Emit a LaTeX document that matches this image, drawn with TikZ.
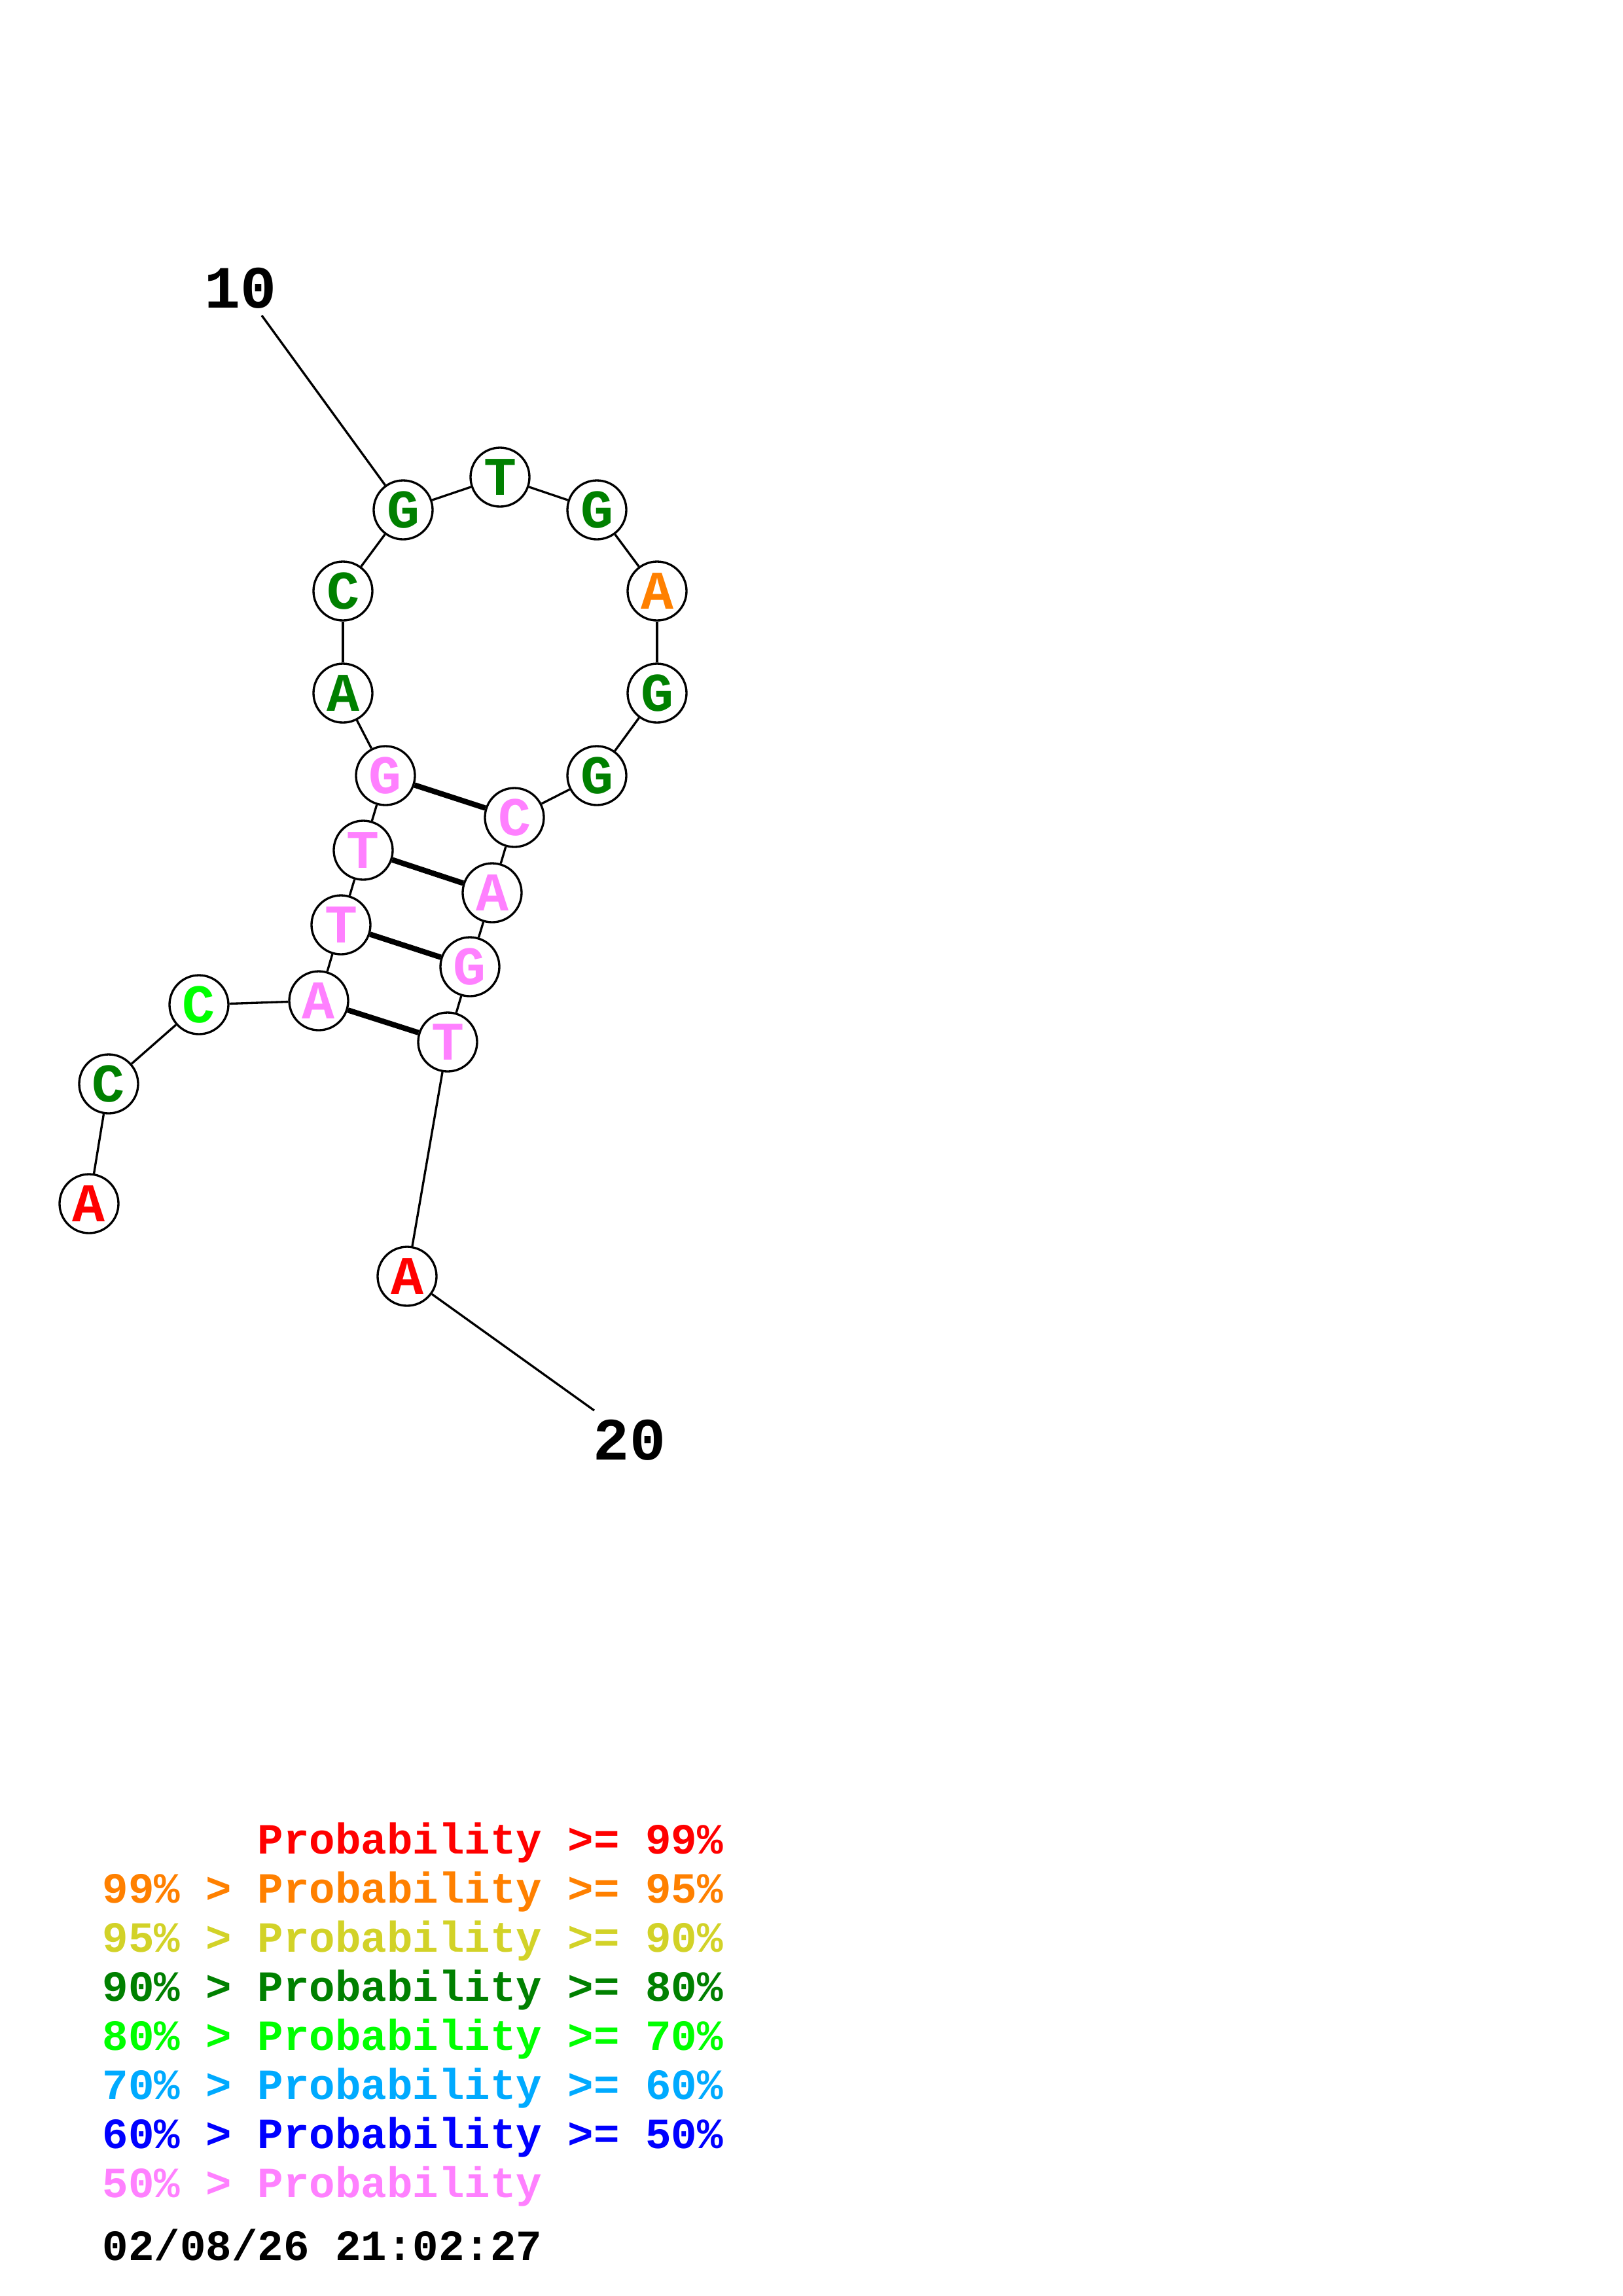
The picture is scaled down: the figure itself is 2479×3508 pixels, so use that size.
\documentclass[tikz,border=0pt]{standalone}
\usepackage{fontspec}
\setmonofont{Liberation Mono}
\definecolor{pr99}{RGB}{255,0,0}
\definecolor{pr95}{RGB}{255,128,0}
\definecolor{pr90}{RGB}{210,210,40}
\definecolor{pr80}{RGB}{0,128,0}
\definecolor{pr70}{RGB}{0,255,0}
\definecolor{pr60}{RGB}{0,170,255}
\definecolor{pr50}{RGB}{0,0,255}
\definecolor{prlow}{RGB}{255,128,255}
\tikzset{
  nuc/.style={circle, draw=black, line width=0.8bp, fill=white, minimum size=21.6bp, inner sep=0pt,
    font=\fontsize{20bp}{20bp}\selectfont\ttfamily\bfseries},
  bb/.style={line width=0.8bp, draw=black},
  bp/.style={line width=2bp, draw=black},
  numlab/.style={font=\fontsize{22bp}{22bp}\selectfont\ttfamily\bfseries, inner sep=0pt},
  leg/.style={font=\fontsize{15.8bp}{15.8bp}\selectfont\ttfamily\bfseries, inner sep=0pt, anchor=base west}
}
\begin{document}
\begin{tikzpicture}[x=0.24bp, y=-0.24bp]
\useasboundingbox (0,0) rectangle (2479,3508);
% nucleotides
\node[nuc, text=pr99]  (n1)  at (136,1839) {A};
\node[nuc, text=pr80]  (n2)  at (166,1656) {C};
\node[nuc, text=pr70]  (n3)  at (304,1535) {C};
\node[nuc, text=prlow] (n4)  at (487,1529) {A};
\node[nuc, text=prlow] (n5)  at (521,1413) {T};
\node[nuc, text=prlow] (n6)  at (555,1299) {T};
\node[nuc, text=prlow] (n7)  at (589,1185) {G};
\node[nuc, text=pr80]  (n8)  at (524,1059) {A};
\node[nuc, text=pr80]  (n9)  at (524,903)  {C};
\node[nuc, text=pr80]  (n10) at (616,779)  {G};
\node[nuc, text=pr80]  (n11) at (764,729)  {T};
\node[nuc, text=pr80]  (n12) at (912,779)  {G};
\node[nuc, text=pr95]  (n13) at (1004,903) {A};
\node[nuc, text=pr80]  (n14) at (1004,1059) {G};
\node[nuc, text=pr80]  (n15) at (912,1185) {G};
\node[nuc, text=prlow] (n16) at (786,1249) {C};
\node[nuc, text=prlow] (n17) at (752,1364) {A};
\node[nuc, text=prlow] (n18) at (718,1477) {G};
\node[nuc, text=prlow] (n19) at (684,1592) {T};
\node[nuc, text=pr99]  (n20) at (622,1950) {A};
% backbone
\foreach \a/\b in {n1/n2,n2/n3,n3/n4,n4/n5,n5/n6,n6/n7,n7/n8,n8/n9,n9/n10,n10/n11,n11/n12,n12/n13,n13/n14,n14/n15,n15/n16,n16/n17,n17/n18,n18/n19,n19/n20}
  \draw[bb] (\a) -- (\b);
% pairs
\draw[bp] (n7) -- (n16);
\draw[bp] (n6) -- (n17);
\draw[bp] (n5) -- (n18);
\draw[bp] (n4) -- (n19);
% number labels
\node[numlab] (l10) at (368,440) {10};
\coordinate (t10) at (400,482);
\draw[bb] (t10) -- (n10);
\node[numlab] (l20) at (962,2200) {20};
\coordinate (t20) at (908,2155);
\draw[bb] (n20) -- (t20);
% legend
\node[leg, text=pr99]  (g1) at (393,2832) {Probability >= 99\%};
\node[leg, text=pr95]  (g2) at (156,2907) {99\% > Probability >= 95\%};
\node[leg, text=pr90]  (g3) at (156,2982) {95\% > Probability >= 90\%};
\node[leg, text=pr80]  (g4) at (156,3057) {90\% > Probability >= 80\%};
\node[leg, text=pr70]  (g5) at (156,3132) {80\% > Probability >= 70\%};
\node[leg, text=pr60]  (g6) at (156,3207) {70\% > Probability >= 60\%};
\node[leg, text=pr50]  (g7) at (156,3282) {60\% > Probability >= 50\%};
\node[leg, text=prlow] (g8) at (156,3357) {50\% > Probability};
\node[leg, text=black] (g9) at (156,3453) {02/08/26 21:02:27};
\end{tikzpicture}
\end{document}
